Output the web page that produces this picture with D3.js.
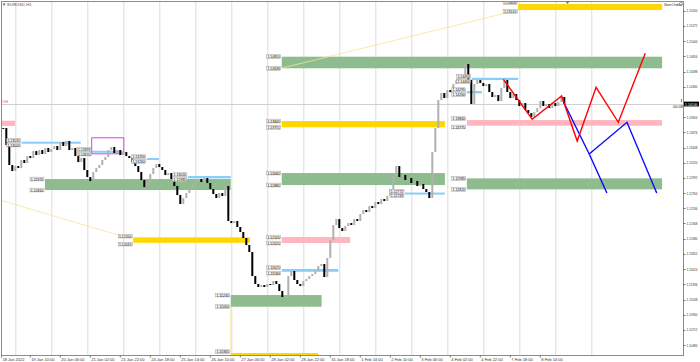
<!DOCTYPE html>
<html>
<head>
<meta charset="utf-8">
<script src="https://cdn.jsdelivr.net/npm/d3@7"></script>
<style>
html, body { margin: 0; padding: 0; background: #fff; }
svg { display: block; font-family: "Liberation Sans", Arial, sans-serif; }
</style>
</head>
<body>
<svg id="chart" width="700" height="362"></svg>
<script>
// EURUSD H1-ish closes, one value per bar
const closes = [
  1.13740, 1.13485, 1.13185, 1.13095, 1.13170, 1.13140, 1.13260, 1.13215, 1.13320, 1.13290,
  1.13395, 1.13335, 1.13410, 1.13350, 1.13440, 1.13380, 1.13425, 1.13470, 1.13410, 1.13530,
  1.13470, 1.13545, 1.13410, 1.13440, 1.13320, 1.13230, 1.13290, 1.13110, 1.13005, 1.12945,
  1.13080, 1.13140, 1.13185, 1.13260, 1.13305, 1.13410, 1.13455, 1.13365, 1.13410, 1.13335,
  1.13380, 1.13320, 1.13290, 1.13230, 1.13170, 1.13080, 1.12960, 1.12855, 1.12930, 1.13050,
  1.13140, 1.13200, 1.13155, 1.13110, 1.13035, 1.13065, 1.12975, 1.12870, 1.12735, 1.12600,
  1.12690, 1.12765, 1.12840, 1.12885, 1.12945, 1.12975, 1.12930, 1.12990, 1.12915, 1.12825,
  1.12750, 1.12690, 1.12765, 1.12720, 1.12870, 1.12345, 1.12315, 1.12345, 1.12255, 1.12180,
  1.12090, 1.11985, 1.11880, 1.11520, 1.11400, 1.11355, 1.11385, 1.11355, 1.11400, 1.11385,
  1.11445, 1.11400, 1.11295, 1.11205, 1.11235, 1.11520, 1.11595, 1.11460, 1.11400, 1.11370,
  1.11445, 1.11475, 1.11520, 1.11550, 1.11595, 1.11670, 1.11700, 1.11505, 1.11790, 1.12060,
  1.12285, 1.12375, 1.12240, 1.12195, 1.12270, 1.12315, 1.12285, 1.12375, 1.12345, 1.12450,
  1.12510, 1.12480, 1.12570, 1.12540, 1.12630, 1.12600, 1.12675, 1.12645, 1.12720, 1.12825,
  1.13020, 1.13170, 1.13005, 1.13035, 1.12960, 1.12990, 1.12915, 1.12945, 1.12870, 1.12900,
  1.12825, 1.12780, 1.12690, 1.13380, 1.13740, 1.14160, 1.14265, 1.14190, 1.14310, 1.14280,
  1.14400, 1.14460, 1.14490, 1.14535, 1.14700, 1.14460, 1.14100, 1.14400, 1.14460, 1.14415,
  1.14370, 1.14400, 1.14280, 1.14205, 1.14235, 1.14145, 1.14340, 1.14460, 1.14280, 1.14190,
  1.14250, 1.14160, 1.14070, 1.14115, 1.14010, 1.13965, 1.13905, 1.13980, 1.14040, 1.14145,
  1.14070, 1.14100, 1.14040, 1.14115, 1.14070, 1.14130, 1.14205, 1.14100
];
const lastPrice = 1.14100;

const priceTicks = [
  1.15500, 1.15272, 1.15044, 1.14816, 1.14588, 1.14360, 1.14132, 1.13904, 1.13676, 1.13448,
  1.13220, 1.12992, 1.12764, 1.12536, 1.12308, 1.12080, 1.11852, 1.11624, 1.11396, 1.11168,
  1.10940, 1.10712, 1.10484
];

// bar index of each time label, and its text
const timeLabelBars = [-1, 9, 19, 29, 39, 49, 59, 69, 79, 89, 99, 109, 119, 129, 139, 149, 159, 169, 179];
const timeLabels = [
  "18 Jan 2022", "19 Jan 10:00", "20 Jan 06:00", "21 Jan 02:00", "21 Jan 22:00", "24 Jan 18:00",
  "25 Jan 14:00", "26 Jan 10:00", "27 Jan 06:00", "28 Jan 02:00", "28 Jan 22:00", "31 Jan 18:00",
  "1 Feb 14:00", "2 Feb 10:00", "3 Feb 06:00", "4 Feb 02:00", "4 Feb 22:00", "7 Feb 18:00", "8 Feb 14:00"
];
const dayStartBars = [4, 16, 28, 40, 52, 64, 76, 88, 100, 112, 124, 136, 148, 160, 172, 184, 196];

// supply / demand zones: kind, from bar, to bar, top price, bottom price, labels ("both", "top", "none")
const zones = [
  ["pink",   -1.1,   3.9,  1.13850, 1.13770, "none"],
  ["green",  13.9,  75.8,  1.12975, 1.12810, "both"],
  ["yellow", 43.3,  82.2,  1.12100, 1.12019, "both"],
  ["green",  75.8, 106.1,  1.11235, 1.11060, "both"],
  ["yellow", 75.8, 105.0,  1.10365, 1.10320, "top"],
  ["pink",   92.8, 115.6,  1.12105, 1.12015, "both"],
  ["green",  92.8, 219.6,  1.14810, 1.14636, "both"],
  ["yellow", 92.8, 147.2,  1.13845, 1.13751, "both"],
  ["green",  92.8, 147.2,  1.13065, 1.12885, "both"],
  ["pink",  154.5, 219.6,  1.13860, 1.13775, "both"],
  ["green", 154.5, 219.6,  1.12985, 1.12820, "both"],
  ["yellow",171.6, 219.6,  1.15600, 1.15510, "both"],
  ["blue",    6.1,  25.8,  1.13535, 1.13505, "both"],
  ["blue",   29.6,  40.0,  1.13399, 1.13370, "both"],
  ["blue",   47.8,  51.9,  1.13290, 1.13260, "both"],
  ["blue",   61.5,  75.8,  1.13020, 1.12985, "both"],
  ["blue",   92.8, 111.7,  1.11625, 1.11584, "both"],
  ["blue",  133.9, 147.2,  1.12772, 1.12743, "both"],
  ["blue",  156.1, 171.6,  1.14494, 1.14460, "both"],
  ["blue",  154.5, 159.5,  1.14295, 1.14260, "both"]
];
const zoneColors = { green: "#8fbc8f", yellow: "#ffd700", pink: "#ffb6c1", blue: "#87cefa" };

// magenta outlined box
const boxes = [[29.3, 40.0, 1.13601, 1.13361]];

// thin guide lines
const guides = [
  [[-1.1, 1.12660], [38.2, 1.12135]],
  [[92.9, 1.14640], [171.6, 1.15510]],
  [[75.8, 1.11060], [75.8, 1.10365]]
];

// projected zigzags
const redPath = [[166.7, 1.14471], [176.3, 1.13871], [186.1, 1.14220], [191.3, 1.13545],
                 [197.6, 1.14351], [205.0, 1.13826], [214.0, 1.14861]];
const bluePathA = [[186.6, 1.14145], [195.3, 1.13350], [201.2, 1.12766]];
const bluePathB = [[195.3, 1.13350], [207.9, 1.13826], [217.8, 1.12766]];

const svg = d3.select("#chart");
const plot = { left: 1, right: 683, top: 1, bottom: 355 };

const x = d3.scaleLinear().domain([0, 200]).range([3.3, 603.3]);
const y = d3.scaleLinear()
  .domain([priceTicks[priceTicks.length - 1], priceTicks[0]])
  .range([345.1, 10.7]);

svg.append("defs").append("clipPath").attr("id", "clip")
  .append("rect")
  .attr("x", plot.left).attr("y", plot.top)
  .attr("width", plot.right - plot.left).attr("height", plot.bottom - plot.top);

const g = svg.append("g").attr("clip-path", "url(#clip)");

// vertical day grid
g.selectAll(".grid").data(dayStartBars).join("line")
  .attr("x1", d => x(d) + 0.5).attr("x2", d => x(d) + 0.5)
  .attr("y1", plot.top).attr("y2", plot.bottom)
  .attr("stroke", "#dcdcdc").attr("stroke-width", 1);

// bid line
g.append("line")
  .attr("x1", plot.left).attr("x2", plot.right)
  .attr("y1", Math.round(y(lastPrice)) + 0.5).attr("y2", Math.round(y(lastPrice)) + 0.5)
  .attr("stroke", "#d0d0d0");

// zones
g.selectAll(".zone").data(zones).join("rect")
  .attr("x", d => x(d[1]))
  .attr("width", d => x(d[2]) - x(d[1]))
  .attr("y", d => y(d[3]))
  .attr("height", d => Math.max(2, y(d[4]) - y(d[3])))
  .attr("fill", d => zoneColors[d[0]]);

g.selectAll(".box").data(boxes).join("rect")
  .attr("x", d => x(d[0]) + 0.5)
  .attr("width", d => x(d[1]) - x(d[0]))
  .attr("y", d => y(d[2]) + 0.5)
  .attr("height", d => y(d[3]) - y(d[2]))
  .attr("fill", "none").attr("stroke", "#e040e0").attr("stroke-width", 1);

g.selectAll(".guide").data(guides).join("line")
  .attr("x1", d => x(d[0][0])).attr("y1", d => y(d[0][1]))
  .attr("x2", d => x(d[1][0])).attr("y2", d => y(d[1][1]))
  .attr("stroke", "#f6e39a").attr("stroke-width", 0.8);

// candles: open = previous close
g.selectAll(".candle").data(closes).join("rect")
  .attr("x", (d, i) => x(i) - 1)
  .attr("width", 2)
  .attr("y", (d, i) => y(Math.max(d, i ? closes[i - 1] : d)))
  .attr("height", (d, i) => Math.max(1, Math.abs(y(d) - y(i ? closes[i - 1] : d))))
  .attr("fill", (d, i) => (i && d >= closes[i - 1]) ? "#b0b0b0" : "#000");

const line = d3.line().x(d => x(d[0])).y(d => y(d[1]));
g.append("path").datum(bluePathA).attr("d", line)
  .attr("fill", "none").attr("stroke", "#0a0aff").attr("stroke-width", 1.4);
g.append("path").datum(bluePathB).attr("d", line)
  .attr("fill", "none").attr("stroke", "#0a0aff").attr("stroke-width", 1.4);
g.append("path").datum(redPath).attr("d", line)
  .attr("fill", "none").attr("stroke", "#ff0000").attr("stroke-width", 1.4);

// zone price labels, left of each zone
const labels = [];
zones.filter(z => z[5] !== "none").forEach(z => {
  const thin = y(z[4]) - y(z[3]) < 6;
  labels.push({ bar: z[1], price: z[3], cy: y(z[3]) - (thin ? 1.3 : 0) });
  if (z[5] === "both") labels.push({ bar: z[1], price: z[4], cy: y(z[4]) + (thin ? 1.3 : 0) });
});
const lab = g.selectAll(".lab").data(labels).join("g")
  .attr("transform", d => `translate(${x(d.bar) - 15},${d.cy})`);
lab.append("rect").attr("x", 0).attr("y", -1.9).attr("width", 14).attr("height", 3.8)
  .attr("fill", "#f2f2f2").attr("stroke", "#8a8a8a").attr("stroke-width", 0.4);
lab.append("text").attr("x", 0.8).attr("y", 1.5)
  .attr("font-size", 4).attr("textLength", 12.4).attr("lengthAdjust", "spacingAndGlyphs")
  .attr("fill", "#111").text(d => d.price.toFixed(5));

// frame
svg.append("rect")
  .attr("x", plot.left + 0.5).attr("y", plot.top + 0.5)
  .attr("width", plot.right - plot.left).attr("height", plot.bottom - plot.top)
  .attr("fill", "none").attr("stroke", "#8c8c8c").attr("stroke-width", 1);

// right price axis (the tick hidden under the price tag is skipped)
const shownTicks = priceTicks.filter(p => Math.abs(y(p) - y(lastPrice)) > 4);
const ya = svg.append("g");
ya.selectAll("line").data(priceTicks).join("line")
  .attr("x1", plot.right).attr("x2", plot.right + 2.5)
  .attr("y1", d => Math.round(y(d)) + 0.5).attr("y2", d => Math.round(y(d)) + 0.5)
  .attr("stroke", "#777");
ya.selectAll("text").data(shownTicks).join("text")
  .attr("x", 686.5).attr("y", d => y(d) + 1.5)
  .attr("font-size", 4).attr("textLength", 11).attr("lengthAdjust", "spacingAndGlyphs")
  .attr("fill", "#333").text(d => d.toFixed(5));

// bottom time axis
const xa = svg.append("g");
xa.selectAll("line").data(timeLabelBars).join("line")
  .attr("x1", d => Math.max(1.5, x(d)) ).attr("x2", d => Math.max(1.5, x(d)))
  .attr("y1", plot.bottom).attr("y2", plot.bottom + 2.5)
  .attr("stroke", "#777");
xa.selectAll("text").data(timeLabelBars).join("text")
  .attr("x", d => Math.max(1.5, x(d)) + 1).attr("y", 360.5)
  .attr("font-size", 4).attr("fill", "#333")
  .text((d, i) => timeLabels[i]);

// current price tag and bar timer
svg.append("rect").attr("x", 684).attr("y", y(lastPrice) - 2.4).attr("width", 15).attr("height", 4.8)
  .attr("fill", "#000");
svg.append("text").attr("x", 685).attr("y", y(lastPrice) + 1.5)
  .attr("font-size", 4).attr("textLength", 12.5).attr("lengthAdjust", "spacingAndGlyphs")
  .attr("fill", "#fff").text(lastPrice.toFixed(5));
svg.append("text").attr("x", 673).attr("y", y(lastPrice) + 3.8)
  .attr("font-size", 4).attr("fill", "#222").text("00:08");
svg.append("line").attr("x1", 681.5).attr("x2", 681.5).attr("y1", 99).attr("y2", 102)
  .attr("stroke", "#ff2020").attr("stroke-width", 0.8);

// header texts
svg.append("text").attr("x", 2).attr("y", 5.5).attr("font-size", 4.2).attr("fill", "#555")
  .text("\u25BC EURUSD,H1");
svg.append("text").attr("x", 2).attr("y", 102.5).attr("font-size", 4.2).attr("fill", "#ff5a3c")
  .text("OH");
svg.append("text").attr("x", 664).attr("y", 5.5).attr("font-size", 4.2).attr("fill", "#333")
  .text("SenOrder");
svg.append("circle").attr("cx", 681).attr("cy", 4).attr("r", 1.6)
  .attr("fill", "none").attr("stroke", "#555").attr("stroke-width", 0.5);
svg.append("path").attr("d", "M565.5,1.5 L569.5,1.5 L567.5,4 Z").attr("fill", "#777");
</script>
</body>
</html>
